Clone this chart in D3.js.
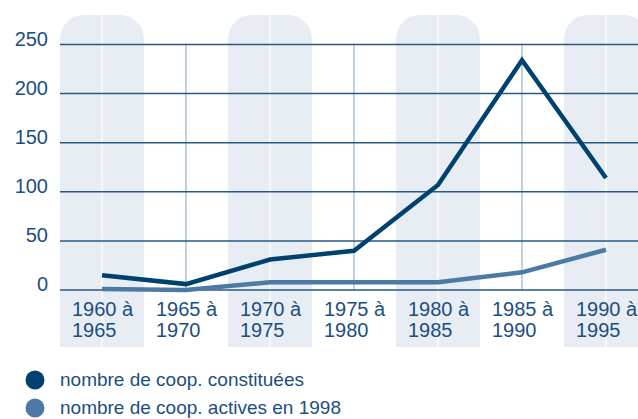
<!DOCTYPE html>
<html>
<head>
<meta charset="utf-8">
<script src="https://cdn.jsdelivr.net/npm/d3@7"></script>
<style>
  body { margin: 0; background: #fff; }
  text { font-family: "Liberation Sans", Arial, sans-serif; fill: #1b4f80; }
</style>
</head>
<body>
<div id="chart"></div>
<script>
//chart data
var periods = ["1960 à|1965", "1965 à|1970", "1970 à|1975", "1975 à|1980", "1980 à|1985", "1985 à|1990", "1990 à|1995"];
var constituees = [15, 6, 31, 40, 107, 234, 114];
var actives = [1, 0, 8, 8, 8, 18, 41];
var yTicks = [0, 50, 100, 150, 200, 250];
var legendLabels = ["nombre de coop. constituées", "nombre de coop. actives en 1998"];
var seriesColors = ["#00426f", "#4d79a5"];

(function(){
  var width = 638, height = 419;
  var left = 60, right = 648;

  var svg = d3.select("#chart").append("svg")
      .attr("width", width)
      .attr("height", height);

  //band scale for the period columns
  var x = d3.scaleBand()
      .domain(periods)
      .range([left, left + 84 * periods.length])
      .padding(0);

  var y = d3.scaleLinear()
      .domain([0, 250])
      .range([290, 44.5]);

  var cx = function(d){ return x(d) + x.bandwidth() / 2; };

  //shaded columns with rounded tops (every other period)
  var r = 24;
  periods.forEach(function(p, i){
    if (i % 2 != 0) return;
    var x0 = x(p), x1 = x(p) + x.bandwidth(), top = 15, bot = 347;
    var path = "M" + x0 + "," + bot +
      "V" + (top + r) +
      "A" + r + "," + r + " 0 0 1 " + (x0 + r) + "," + top +
      "H" + (x1 - r) +
      "A" + r + "," + r + " 0 0 1 " + x1 + "," + (top + r) +
      "V" + bot + "Z";
    svg.append("path").attr("d", path).attr("fill", "#e8edf4");
  });

  //vertical lines at period centres
  svg.selectAll(".vline")
      .data(periods)
      .enter()
      .append("line")
      .attr("x1", cx).attr("x2", cx)
      .attr("y1", function(d, i){ return i % 2 == 0 ? 15 : y(250); })
      .attr("y2", function(d, i){ return i % 2 == 0 ? 347 : y(0); })
      .attr("stroke", function(d, i){ return i % 2 == 0 ? "#ffffff" : "#a3b6d0"; })
      .attr("stroke-width", 1.3);

  //horizontal gridlines
  svg.selectAll(".hline")
      .data(yTicks)
      .enter()
      .append("line")
      .attr("x1", left).attr("x2", right)
      .attr("y1", function(d){ return y(d); })
      .attr("y2", function(d){ return y(d); })
      .attr("stroke", "#285884")
      .attr("stroke-width", 1.5);

  //y tick labels
  svg.selectAll(".ylab")
      .data(yTicks)
      .enter()
      .append("text")
      .attr("x", 48)
      .attr("y", function(d){ return y(d) + 1; })
      .attr("text-anchor", "end")
      .style("font-size", "20px")
      .text(function(d){ return d; });

  //x labels on two lines
  var xl = svg.selectAll(".xlab")
      .data(periods)
      .enter()
      .append("text")
      .attr("x", function(d){ return x(d) + 12; })
      .attr("y", 316)
      .style("font-size", "20px");
  xl.append("tspan")
      .attr("x", function(d){ return x(d) + 12; })
      .text(function(d){ return d.split("|")[0]; });
  xl.append("tspan")
      .attr("x", function(d){ return x(d) + 12; })
      .attr("dy", 21)
      .text(function(d){ return d.split("|")[1]; });

  //lines
  var line = d3.line()
      .x(function(d, i){ return cx(periods[i]); })
      .y(function(d){ return y(d); });

  [constituees, actives].forEach(function(s, i){
    svg.append("path")
        .datum(s)
        .attr("d", line)
        .attr("fill", "none")
        .attr("stroke", seriesColors[i])
        .attr("stroke-width", 4.5)
        .attr("stroke-linejoin", "miter");
  });

  //legend
  var leg = svg.selectAll(".leg")
      .data(legendLabels)
      .enter()
      .append("g")
      .attr("transform", function(d, i){ return "translate(35," + (380 + i * 28) + ")"; });
  leg.append("circle")
      .attr("r", 9.5)
      .attr("fill", function(d, i){ return seriesColors[i]; });
  leg.append("text")
      .attr("x", 25)
      .attr("y", 6)
      .style("font-size", "19px")
      .text(function(d){ return d; });
})();
</script>
</body>
</html>
